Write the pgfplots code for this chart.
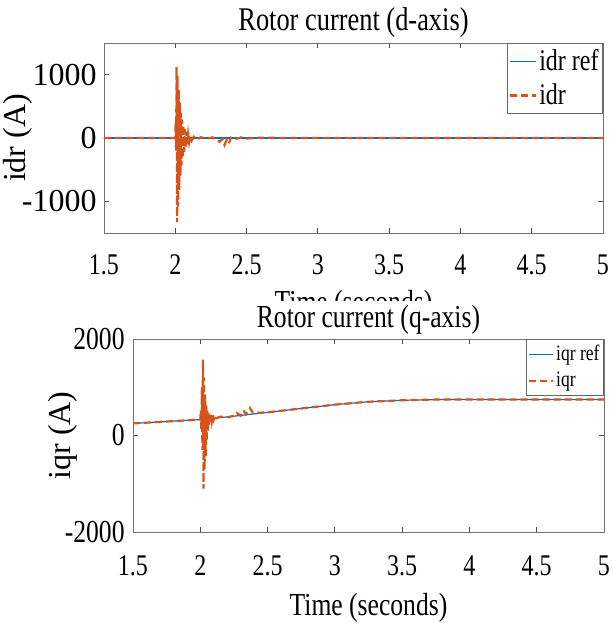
\documentclass[border=0pt]{standalone}
\usepackage{pgfplots}
\pgfplotsset{compat=1.18}
\usepackage{fontspec}
\setmainfont{Liberation Serif}
\newfontfamily\cond[FakeStretch=0.8]{Liberation Serif}
\definecolor{mblue}{RGB}{0,114,189}
\definecolor{mred}{RGB}{217,83,25}

\pgfplotsset{
  rotor/.style={
    scale only axis, xmin=1.5, xmax=5,
    xtick={1.5,2,2.5,3,3.5,4,4.5,5},
    tick align=inside, tick pos=both, major tick length=2.5pt,
    axis line style={black!55}, every tick/.style={black!70},
    scaled ticks=false,
    /pgf/number format/assume math mode=true,
    /pgf/number format/1000 sep={},
    legend cell align=left,
  },
  refline/.style={color=mblue, line width=0.6pt},
  measline/.style={color=mred, line width=1.1pt, dash pattern=on 3.5pt off 2pt},
}

\begin{document}
\begin{tikzpicture}
\path[use as bounding box] (-52pt,-195pt) rectangle (254.5pt,116.5pt);

% ---- d-axis ----
\begin{axis}[rotor,
  at={(0pt,0pt)}, anchor=south west,
  width=249.5pt, height=95pt,
  ymin=-1500, ymax=1500, ytick={-1000,0,1000},
  title={Rotor current (d-axis)},
  title style={at={(0.5,1)}, anchor=base, yshift=0.5pt, font=\cond\fontsize{16.5}{17}\selectfont},
  xlabel={Time (seconds)},
  xlabel style={at={(0.5,0)}, anchor=base, yshift=-39.5pt, font=\cond\fontsize{16}{17}\selectfont},
  ylabel={idr (A)},
  ylabel style={at={(axis description cs:-0.1423,0.5)}, anchor=south, inner sep=0pt, font=\fontsize{16}{17}\selectfont},
  x tick label style={anchor=base, yshift=-20.5pt, font=\cond\fontsize{15}{16}\selectfont},
  y tick label style={inner sep=0pt, xshift=-3.5pt, font=\fontsize{16}{17}\selectfont},
  legend style={at={(1,1)}, anchor=north east, draw=black!60,
    font=\cond\fontsize{15}{16}\selectfont, inner xsep=1pt, inner ysep=2pt,
    row sep=3pt, nodes={inner sep=1pt}},
  legend image code/.code={\draw[#1] (0pt,0pt) -- (13pt,0pt);},
]
\addplot[refline, legend image code/.code={\draw[mblue, line width=0.7pt] (0pt,0pt) -- (13pt,0pt);}]
  coordinates {(1.5,0) (2.0,0) (5,0)};
\addlegendentry{idr ref}
\addplot[measline] coordinates {
 (1.5,0) (2.0,0) (2.003,250) (2.006,-200) (2.009,1120) (2.013,-1330)
 (2.016,980) (2.020,-1080) (2.024,760) (2.028,-820) (2.032,560) (2.036,-600)
 (2.040,400) (2.044,-430) (2.048,290) (2.052,-310) (2.057,200) (2.062,-220)
 (2.067,140) (2.072,-150) (2.078,95) (2.084,-100) (2.090,60) (2.097,-65)
 (2.105,35) (2.115,-40) (2.13,20) (2.15,-20) (2.18,12) (2.22,-12)
 (2.26,10) (2.29,-25) (2.31,-60) (2.33,-20) (2.345,-110) (2.36,-30)
 (2.375,-90) (2.39,5) (2.42,-20) (2.46,10) (2.50,-8) (2.60,5) (2.80,0) (5,0)};
\addlegendentry{idr}
\end{axis}

% ---- q-axis ----
\begin{axis}[rotor,
  at={(14.5pt,-149.5pt)}, anchor=south west,
  width=235.5pt, height=96.5pt,
  ymin=-2000, ymax=2000, ytick={-2000,0,2000},
  title={Rotor current (q-axis)},
  title style={at={(0.5,1)}, anchor=base, yshift=0pt, fill=white, inner sep=2pt,
    font=\cond\fontsize{16}{17}\selectfont},
  xlabel={Time (seconds)},
  xlabel style={at={(0.5,0)}, anchor=base, yshift=-41.5pt, font=\cond\fontsize{16}{17}\selectfont},
  ylabel={iqr (A)},
  ylabel style={at={(axis description cs:-0.1168,0.5)}, anchor=south, inner sep=0pt, font=\fontsize{16}{17}\selectfont},
  x tick label style={anchor=base, yshift=-21.5pt, font=\cond\fontsize{15}{16}\selectfont},
  y tick label style={inner sep=0pt, xshift=-4pt, font=\cond\fontsize{16}{17}\selectfont},
  legend style={at={(1,1)}, anchor=north east, draw=black!60,
    font=\cond\fontsize{11}{12}\selectfont, inner xsep=1pt, inner ysep=2pt,
    row sep=2pt, nodes={inner sep=1pt}},
  legend image code/.code={\draw[#1] (0pt,0pt) -- (12pt,0pt);},
]
\addplot[refline] coordinates {
 (1.5,250) (1.75,290) (2.0,330) (2.25,400) (2.5,480) (2.75,560) (3.0,640)
 (3.25,700) (3.5,730) (3.75,745) (4.0,745) (5,745)};
\addlegendentry{iqr ref}
\addplot[measline] coordinates {
 (1.5,250) (1.75,290) (2.0,330) (2.004,520) (2.008,120) (2.012,1000)
 (2.016,-300) (2.020,1575) (2.024,-1100) (2.028,1200) (2.032,-700)
 (2.036,850) (2.040,-420) (2.044,620) (2.048,-120) (2.052,520) (2.056,100)
 (2.060,470) (2.064,220) (2.069,430) (2.074,260) (2.080,450) (2.086,300)
 (2.093,430) (2.10,330) (2.11,410) (2.12,360) (2.15,390) (2.20,380)
 (2.24,400) (2.27,470) (2.30,410) (2.32,520) (2.34,440) (2.37,570)
 (2.39,470) (2.42,470) (2.5,480) (2.75,560) (3.0,640) (3.25,700)
 (3.5,730) (3.75,745) (4.0,745) (5,745)};
\addlegendentry{iqr}
\end{axis}
\end{tikzpicture}
\end{document}
